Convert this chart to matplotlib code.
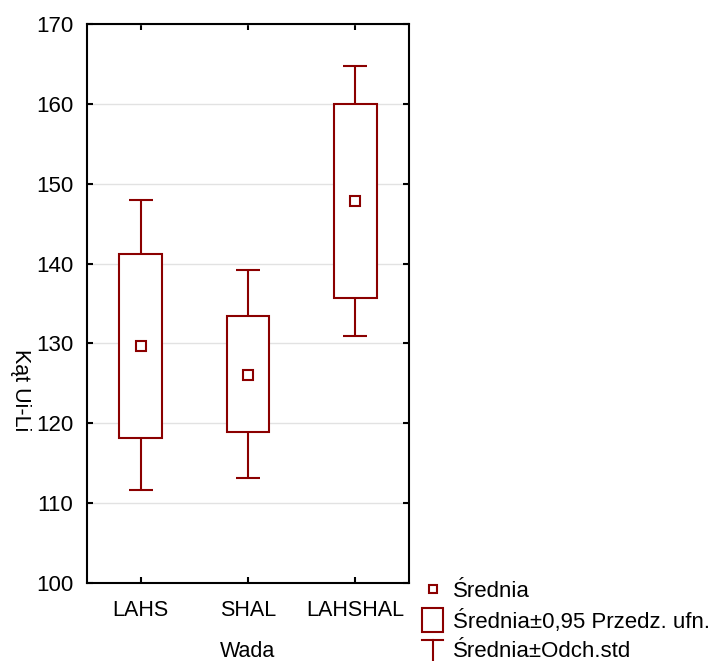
import numpy as np
import matplotlib
matplotlib.use('Agg')
import matplotlib.pyplot as plt
from matplotlib.lines import Line2D
from matplotlib.patches import Rectangle, Patch
from matplotlib.legend_handler import HandlerBase

plt.rcParams['font.family'] = ['Liberation Sans', 'DejaVu Sans']

# dane
grupy = ['LAHS', 'SHAL', 'LAHSHAL']
srednia = [129.7, 126.1, 147.8]
ci_dol = [118.2, 118.9, 135.7]
ci_gora = [141.2, 133.4, 160.0]
sd_dol = [111.6, 113.1, 130.9]
sd_gora = [147.9, 139.2, 164.7]

kolor = '#8b0000'


class BoxHandler(HandlerBase):
    def create_artists(self, legend, orig, xd, yd, w, h, fs, trans):
        bw, bh = 14.5, 17.5
        r = Rectangle((-xd + (w - bw) / 2, -yd + h / 2 - bh / 2), bw, bh,
                      facecolor='white', edgecolor=kolor, lw=1.5, transform=trans)
        return [r]


class TeeHandler(HandlerBase):
    def create_artists(self, legend, orig, xd, yd, w, h, fs, trans):
        cx = -xd + w / 2
        top = -yd + h / 2 + 7
        cap = Line2D([cx - 7.5, cx + 7.5], [top, top], color=kolor, lw=1.5, transform=trans)
        stem = Line2D([cx, cx], [top, top - 20], color=kolor, lw=1.5, transform=trans)
        return [cap, stem]


fig = plt.figure(figsize=(7.23, 6.61), dpi=100)
ax = fig.add_axes([0.1203, 0.118, 0.4454, 0.8457])

x = np.arange(len(grupy))
sr = np.array(srednia)
ax.errorbar(x, sr, yerr=[sr - np.array(sd_dol), np.array(sd_gora) - sr], fmt='none',
            ecolor=kolor, elinewidth=1.5, capsize=8.3, capthick=1.5, zorder=2)
ax.bar(x, np.array(ci_gora) - np.array(ci_dol), bottom=ci_dol, width=0.4,
       facecolor='white', edgecolor=kolor, linewidth=1.5, zorder=3)
ax.plot(x, sr, ls='none', marker='s', ms=6.5, mfc='white', mec=kolor, mew=1.5, zorder=4)

ax.set_xlim(-0.5, 2.5)
ax.set_ylim(100, 170)
ax.set_yticks(np.arange(100, 171, 10))
ax.set_xticks(x)
ax.set_xticklabels(grupy)
ax.grid(axis='y', color='#e2e2e2', lw=1)
ax.set_axisbelow(True)
for s in ax.spines.values():
    s.set_linewidth(1.5)
ax.tick_params(axis='y', direction='in', left=True, right=True, length=4, width=1.5,
               labelsize=16, pad=10)
ax.tick_params(axis='x', direction='in', top=True, bottom=True, length=4, width=1.5,
               labelsize=15.5, pad=12)

ax.set_xlabel('Wada', fontsize=15.5, labelpad=14.5)
ax.set_ylabel('Kąt Ui-Li', fontsize=15.5, rotation=270, va='center')
ax.yaxis.set_label_coords(-0.205, 0.345)

h_sr = Line2D([], [], ls='none', marker='s', ms=6, mfc='white', mec=kolor, mew=1.5)
h_ci = Patch()
h_sd = Line2D([], [])
fig.legend([h_sr, h_ci, h_sd],
           ['Średnia', 'Średnia±0,95 Przedz. ufn.', 'Średnia±Odch.std'],
           handler_map={h_ci: BoxHandler(), h_sd: TeeHandler()},
           loc='upper left', bbox_to_anchor=(422 / 723, 1 - 581 / 661),
           frameon=False, fontsize=16, borderpad=0, borderaxespad=0,
           handlelength=0.95, handletextpad=0.45, labelspacing=0.36)

fig.savefig('out.png', dpi=100)
